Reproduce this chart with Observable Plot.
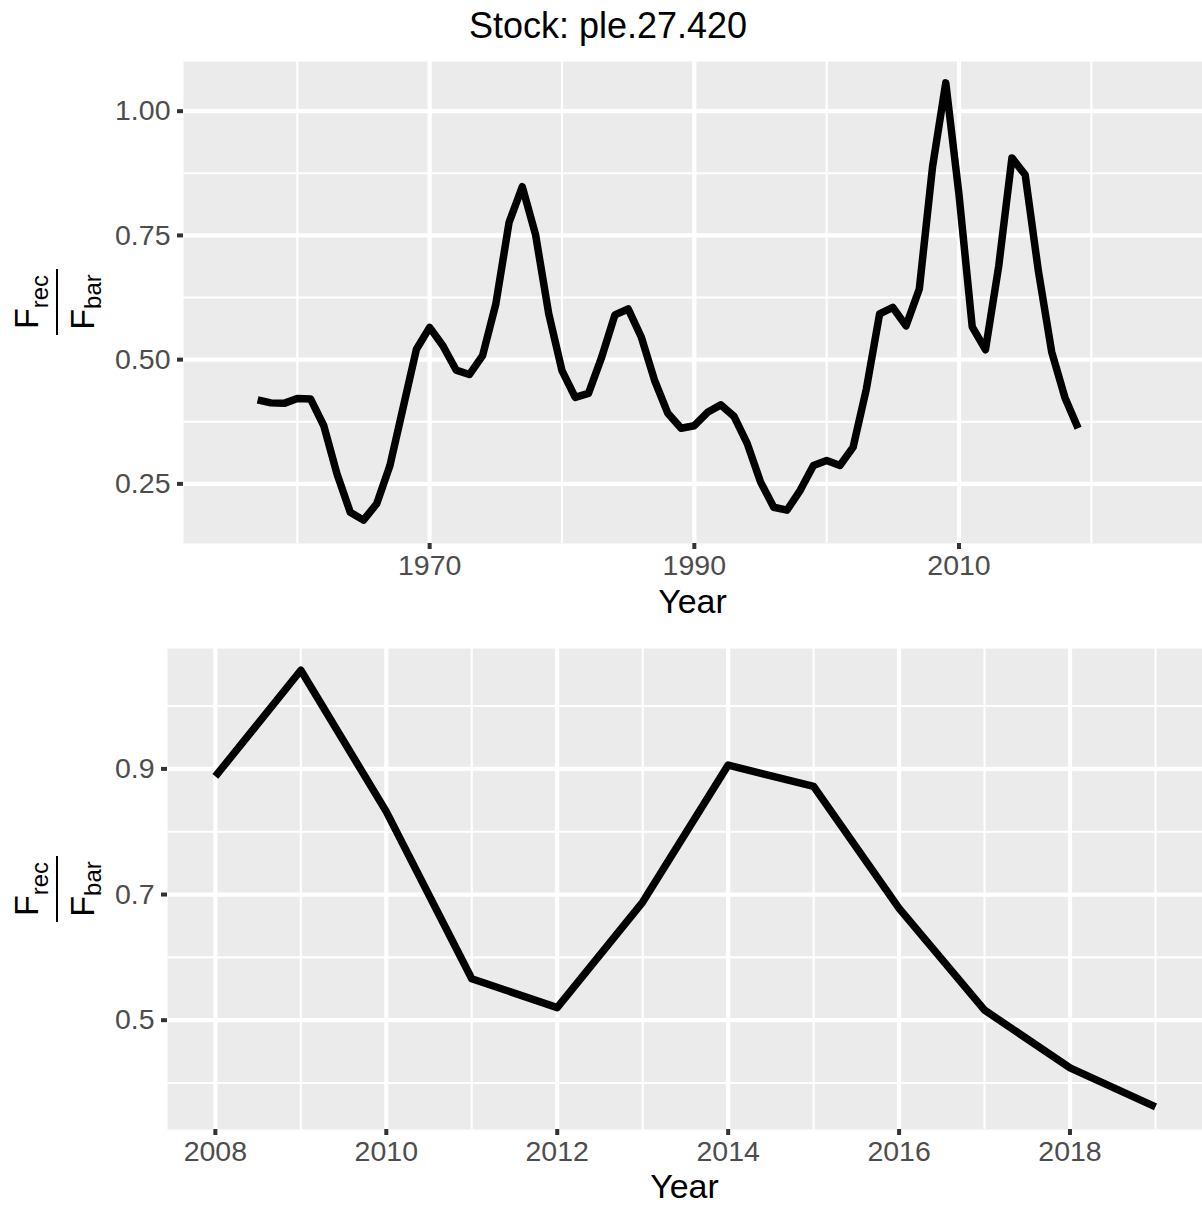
<!DOCTYPE html>
<html><head><meta charset="utf-8">
<script src="https://cdn.jsdelivr.net/npm/d3@7"></script>
<script src="https://cdn.jsdelivr.net/npm/@observablehq/plot@0.6"></script>
<style>
body{margin:0;background:#fff;font-family:"Liberation Sans",Arial,sans-serif;}
#wrap{position:relative;width:1202px;height:1206px;overflow:hidden;}
#title{position:absolute;left:7px;width:1202px;top:8px;text-align:center;font-size:36px;line-height:36px;color:#000;}
#p1{position:absolute;left:0;top:0}
#p2{position:absolute;left:0;top:635px}
</style></head><body>
<div id="wrap"><div id="p1"></div><div id="p2"></div><div id="title">Stock: ple.27.420</div></div>
<script>
// ---- data ----
const years = [1957,1958,1959,1960,1961,1962,1963,1964,1965,1966,1967,1968,1969,1970,1971,1972,1973,1974,1975,1976,1977,1978,1979,1980,1981,1982,1983,1984,1985,1986,1987,1988,1989,1990,1991,1992,1993,1994,1995,1996,1997,1998,1999,2000,2001,2002,2003,2004,2005,2006,2007,2008,2009,2010,2011,2012,2013,2014,2015,2016,2017,2018,2019];
const ratio = [0.419,0.413,0.412,0.422,0.421,0.367,0.27,0.193,0.177,0.210,0.287,0.404,0.521,0.565,0.528,0.479,0.470,0.508,0.612,0.776,0.848,0.752,0.592,0.478,0.424,0.432,0.505,0.590,0.602,0.545,0.458,0.392,0.362,0.367,0.394,0.409,0.386,0.331,0.254,0.203,0.197,0.237,0.287,0.297,0.287,0.324,0.441,0.592,0.605,0.568,0.642,0.888,1.057,0.832,0.566,0.520,0.688,0.906,0.872,0.678,0.516,0.424,0.362];
const recentStart = 2008;

const topXMajor = [1970,1990,2010];
const topXMinor = [1960,1980,2000,2020];
const topYMajor = [0.25,0.50,0.75,1.00];
const topYMinor = [0.375,0.625,0.875];
const botXMajor = [2008,2010,2012,2014,2016,2018];
const botXMinor = [2009,2011,2013,2015,2017,2019];
const botYMajor = [0.5,0.7,0.9];
const botYMinor = [0.4,0.6,0.8,1.0];

const table = years.map((y,i)=>({year:y, value:ratio[i]}));
const recent = table.filter(d=>d.year>=recentStart);

const FONT = '"Liberation Sans", Arial, sans-serif';

function panel(o){
  const svg = Plot.plot({
    width:1202, height:o.height,
    marginTop:o.mt, marginBottom:o.mb, marginLeft:o.ml, marginRight:0,
    style:{fontFamily:FONT, background:"transparent"},
    x:{domain:o.xd},
    y:{domain:o.yd},
    marks:[
      Plot.frame({fill:"#EBEBEB", stroke:"none"}),
      Plot.ruleX(o.xMinor,{stroke:"white", strokeWidth:2.1}),
      Plot.ruleY(o.yMinor,{stroke:"white", strokeWidth:2.1}),
      Plot.ruleX(o.xMajor,{stroke:"white", strokeWidth:4.2}),
      Plot.ruleY(o.yMajor,{stroke:"white", strokeWidth:4.2}),
      Plot.line(o.data,{x:"year", y:"value", stroke:"black", strokeWidth:7.5, strokeLinecap:"butt", strokeLinejoin:"round"}),
      Plot.axisX({ticks:o.xMajor, tickFormat:d3.format("d"), tickSize:6, tickPadding:5, fontSize:28.5, stroke:"#333333", strokeWidth:4, fill:"#4D4D4D", label:null}),
      Plot.axisY({ticks:o.yMajor, tickFormat:d3.format(o.yf), tickSize:6, tickPadding:7, fontSize:28.5, stroke:"#333333", strokeWidth:4, fill:"#4D4D4D", label:null})
    ]
  });
  const s = d3.select(svg);
  s.append("text").attr("x",(o.ml+1202)/2).attr("y",o.yearY).attr("text-anchor","middle")
    .attr("font-size",34).attr("fill","black").attr("font-family",FONT).text("Year");
  const g = s.append("g").attr("transform",`translate(0,${o.cy}) rotate(-90)`).attr("font-family",FONT).attr("fill","black");
  const n = g.append("text").attr("x",0).attr("y",38).attr("text-anchor","middle");
  n.append("tspan").attr("font-size",34).text("F");
  n.append("tspan").attr("font-size",24).attr("dy",10).text("rec");
  g.append("line").attr("x1",-33).attr("x2",33).attr("y1",57).attr("y2",57).attr("stroke","black").attr("stroke-width",2);
  const dd = g.append("text").attr("x",0).attr("y",94).attr("text-anchor","middle");
  dd.append("tspan").attr("font-size",34).text("F");
  dd.append("tspan").attr("font-size",24).attr("dy",7).text("bar");
  return svg;
}

document.getElementById("p1").appendChild(panel({
  data:table, height:635, mt:61, mb:92, ml:183,
  xd:[1951.4,2028.4], yd:[0.130,1.100],
  xMajor:topXMajor, xMinor:topXMinor, yMajor:topYMajor, yMinor:topYMinor,
  yf:".2f", yearY:613, cy:302
}));
document.getElementById("p2").appendChild(panel({
  data:recent, height:571, mt:13, mb:77, ml:167,
  xd:[2007.44,2019.55], yd:[0.326,1.0916],
  xMajor:botXMajor, xMinor:botXMinor, yMajor:botYMajor, yMinor:botYMinor,
  yf:".1f", yearY:563, cy:254
}));
</script>
</body></html>
